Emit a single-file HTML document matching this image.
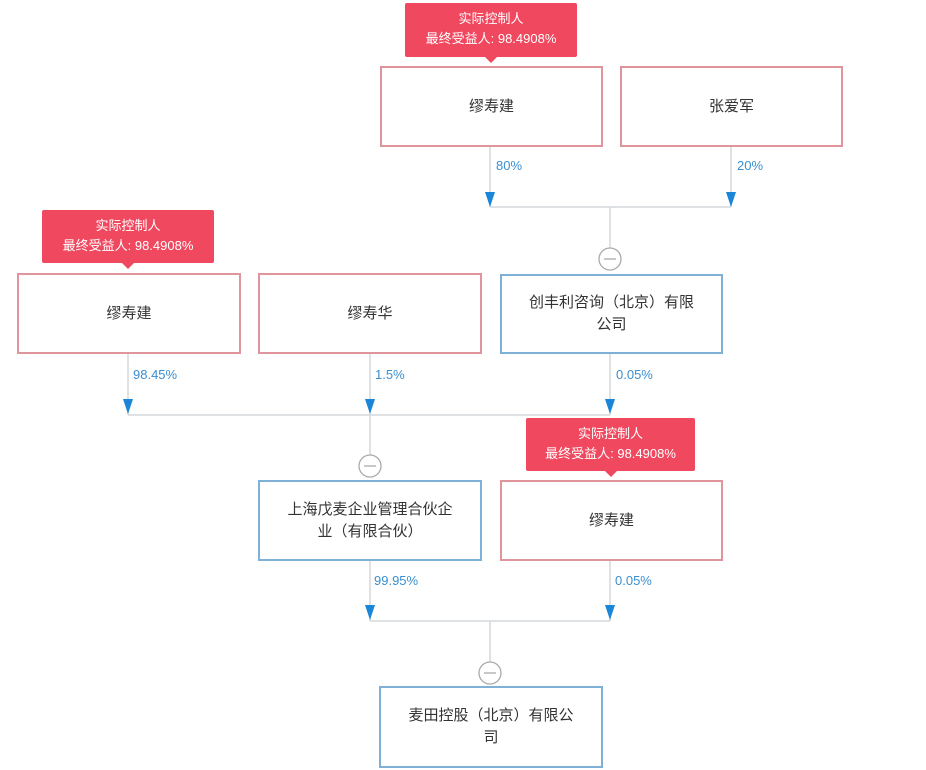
<!DOCTYPE html>
<html><head><meta charset="utf-8"><style>
body{margin:0;width:926px;height:770px;background:#fff;position:relative;overflow:hidden;font-family:"Liberation Sans","Noto Sans CJK SC",sans-serif;}
.b{position:absolute;box-sizing:border-box;background:#fff;display:flex;align-items:center;justify-content:center;text-align:center;font-size:15px;color:#333;line-height:22px;padding:0 24px;}
.r{border:2px solid #e0959c;}
.u{border:2px solid #7fb0d6;}
.t{position:absolute;background:#f0485f;color:#fff;font-size:13px;line-height:20px;text-align:center;padding-top:6px;box-sizing:border-box;border-radius:2px;}
.t:after{content:"";position:absolute;left:50%;bottom:-6px;margin-left:-6px;border-left:6px solid transparent;border-right:6px solid transparent;border-top:6px solid #f0485f;}
.p{position:absolute;color:#3a8fd0;font-size:13px;}
svg{position:absolute;left:0;top:0;}
</style></head><body>
<svg width="926" height="770">
<g stroke="#d4d8dc" stroke-width="1.5" fill="none">
<line x1="490" y1="146" x2="490" y2="207"/><line x1="731" y1="146" x2="731" y2="207"/>
<line x1="490" y1="207" x2="731" y2="207"/><line x1="610" y1="207" x2="610" y2="248"/>
<line x1="128" y1="353" x2="128" y2="415"/><line x1="370" y1="353" x2="370" y2="415"/><line x1="610" y1="353" x2="610" y2="415"/>
<line x1="128" y1="415" x2="610" y2="415"/><line x1="370" y1="415" x2="370" y2="455"/>
<line x1="370" y1="560" x2="370" y2="621"/><line x1="610" y1="560" x2="610" y2="621"/>
<line x1="370" y1="621" x2="610" y2="621"/><line x1="490" y1="621" x2="490" y2="662"/>
</g>
<g fill="#1b86d8">
<polygon points="485,192 495,192 490,207"/><polygon points="726,192 736,192 731,207"/>
<polygon points="123,399 133,399 128,414"/><polygon points="365,399 375,399 370,414"/><polygon points="605,399 615,399 610,414"/>
<polygon points="365,605 375,605 370,620"/><polygon points="605,605 615,605 610,620"/>
</g>
<g stroke="#aaa" stroke-width="1.3" fill="#fff">
<circle cx="610" cy="259" r="11"/><circle cx="370" cy="466" r="11"/><circle cx="490" cy="673" r="11"/>
<line x1="604" y1="259" x2="616" y2="259"/><line x1="364" y1="466" x2="376" y2="466"/><line x1="484" y1="673" x2="496" y2="673"/>
</g>
</svg>
<div class="t" style="left:405px;top:3px;width:172px;height:54px">实际控制人<br>最终受益人: 98.4908%</div>
<div class="b r" style="left:380px;top:66px;width:223px;height:81px">缪寿建</div>
<div class="b r" style="left:620px;top:66px;width:223px;height:81px">张爱军</div>
<div class="p" style="left:496px;top:158px">80%</div>
<div class="p" style="left:737px;top:158px">20%</div>
<div class="t" style="left:42px;top:210px;width:172px;height:53px">实际控制人<br>最终受益人: 98.4908%</div>
<div class="b r" style="left:17px;top:273px;width:224px;height:81px">缪寿建</div>
<div class="b r" style="left:258px;top:273px;width:224px;height:81px">缪寿华</div>
<div class="b u" style="left:500px;top:274px;width:223px;height:80px">创丰利咨询（北京）有限公司</div>
<div class="p" style="left:133px;top:367px">98.45%</div>
<div class="p" style="left:375px;top:367px">1.5%</div>
<div class="p" style="left:616px;top:367px">0.05%</div>
<div class="t" style="left:526px;top:418px;width:169px;height:53px">实际控制人<br>最终受益人: 98.4908%</div>
<div class="b u" style="left:258px;top:480px;width:224px;height:81px">上海戊麦企业管理合伙企业（有限合伙）</div>
<div class="b r" style="left:500px;top:480px;width:223px;height:81px">缪寿建</div>
<div class="p" style="left:374px;top:573px">99.95%</div>
<div class="p" style="left:615px;top:573px">0.05%</div>
<div class="b u" style="left:379px;top:686px;width:224px;height:82px">麦田控股（北京）有限公司</div>
</body></html>
